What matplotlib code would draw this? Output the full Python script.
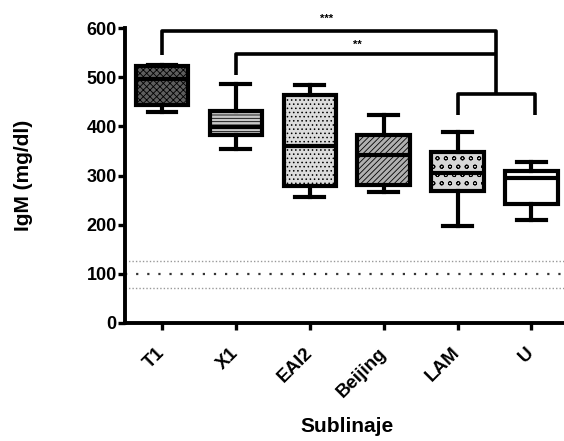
import numpy as np
import matplotlib
matplotlib.use("Agg")
import matplotlib.pyplot as plt

plt.rcParams['font.family'] = ['Liberation Sans', 'DejaVu Sans']
plt.rcParams['font.weight'] = 'bold'
plt.rcParams['hatch.linewidth'] = 0.6

# values (mg/dl)
groups = ["T1", "X1", "EAI2", "Beijing", "LAM", "U"]
whislo = [430, 353, 257, 266, 197, 209]
q1 = [443, 382, 279, 281, 269, 243]
med = [497, 399, 360, 341, 306, 295]
q3 = [523, 431, 465, 382, 347, 310]
whishi = [525, 487, 484, 424, 389, 328]

faces = ["#5e5e5e", "#c8c8c8", "#dcdcdc", "#b0b0b0", "#d8d8d8", "white"]
hatches = ["xxxxx", "-----", "....", "//////", "oo", None]

ref_mid = 100
ref_hi = 125
ref_lo = 71

fig = plt.figure(figsize=(5.64, 4.41), dpi=100)
ax = fig.add_axes([0.2216, 0.268, 0.7784, 0.668])

stats = []
for i, g in enumerate(groups):
    stats.append(dict(label=g, whislo=whislo[i], q1=q1[i], med=med[i],
                      q3=q3[i], whishi=whishi[i], fliers=[]))

pos = np.arange(len(groups))
bp = ax.bxp(stats, positions=pos, widths=0.71, capwidths=0.39,
            patch_artist=True, showfliers=False,
            boxprops=dict(linewidth=3.0, edgecolor='black'),
            medianprops=dict(color='black', linewidth=3.0),
            whiskerprops=dict(color='black', linewidth=3.0),
            capprops=dict(color='black', linewidth=3.0))
for b, fc, h in zip(bp['boxes'], faces, hatches):
    b.set_facecolor(fc)
    if h:
        b.set_hatch(h)

# reference lines
ax.axhline(ref_mid, color='#333333', ls=(0, (1, 4)), lw=1.6, zorder=0)
ax.axhline(ref_hi, color='#999999', ls=(0, (1, 1.5)), lw=1.0, zorder=0)
ax.axhline(ref_lo, color='#999999', ls=(0, (1, 1.5)), lw=1.0, zorder=0)

# significance brackets
lw = 2.6
j = 4.52
ax.plot([0, 0, j, j], [545, 594, 594, 467], color='black', lw=lw, clip_on=False,
        solid_capstyle='butt')
ax.plot([1, 1, j], [504, 547, 547], color='black', lw=lw, clip_on=False,
        solid_capstyle='butt')
ax.plot([4, 4, 5.05, 5.05], [423, 467, 467, 423], color='black', lw=lw,
        clip_on=False, solid_capstyle='butt')
ax.text(2.23, 620, "***", ha='center', va='center', fontsize=8)
ax.text(2.64, 566, "**", ha='center', va='center', fontsize=8)

ax.set_xlim(-0.5, 5.44)
ax.set_ylim(0, 600)
ax.set_yticks([0, 100, 200, 300, 400, 500, 600])
ax.set_xticks(pos)
ax.set_xticklabels(groups, rotation=45, ha='right', va='center',
                   rotation_mode='anchor', fontsize=13.5, fontweight='bold')
ax.tick_params(axis='y', labelsize=13, width=2.4, length=5, pad=1)
ax.tick_params(axis='x', width=2.4, length=5, pad=15)
for s in ['top', 'right']:
    ax.spines[s].set_visible(False)
for s in ['left', 'bottom']:
    ax.spines[s].set_linewidth(2.8)

ax.set_ylabel("IgM (mg/dl)", fontsize=15, fontweight='bold',
              ha='center', va='center')
ax.yaxis.set_label_coords(-0.232, 0.5)
ax.set_xlabel("Sublinaje", fontsize=15, fontweight='bold', va='center')
ax.xaxis.set_label_coords(0.505, -0.353)

fig.savefig("out.png", dpi=100)
